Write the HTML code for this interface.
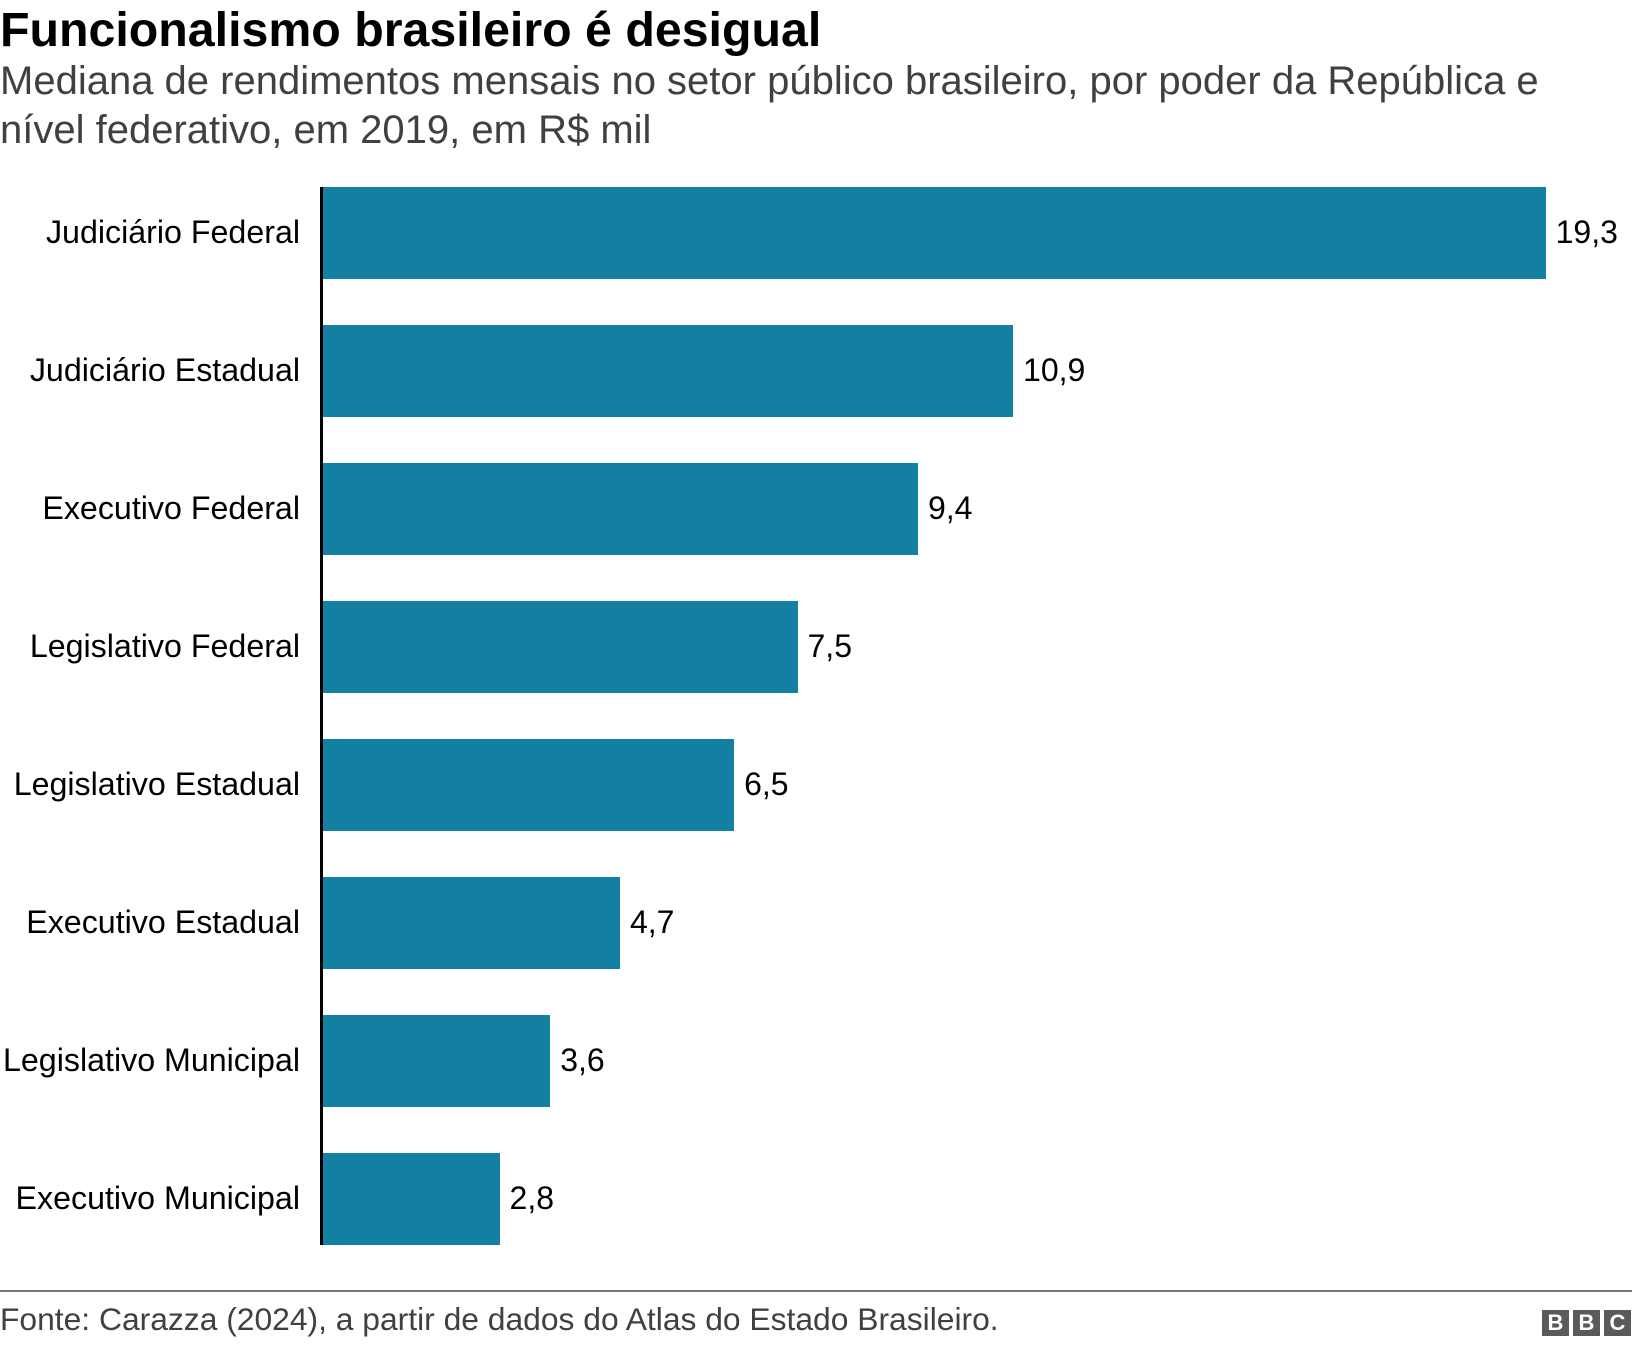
<!DOCTYPE html>
<html><head><meta charset="utf-8"><style>
body{margin:0;width:1632px;height:1346px;background:#fff;font-family:"Liberation Sans",Arial,sans-serif;position:relative;overflow:hidden}
.a{position:absolute;white-space:nowrap}
.t{left:0;top:2px;font-size:48.3px;font-weight:bold;color:#000;line-height:56px}
.s{left:0;top:57px;font-size:40px;color:#404040;line-height:49px}
.l{right:1332px;font-size:32.2px;color:#000;line-height:36px}
.v{font-size:32px;color:#000;line-height:36px}
.b{position:absolute;left:322px;height:92px;background:#1380a1}
</style></head><body>
<div class="a t">Funcionalismo brasileiro é desigual</div>
<div class="a s">Mediana de rendimentos mensais no setor público brasileiro, por poder da República e<br>nível federativo, em 2019, em R$ mil</div>
<div id="c"></div>
<div class="a" style="left:320px;top:187px;width:3px;height:1058px;background:#000"></div>
<div class="a" style="left:0;top:1290px;width:1632px;height:2px;background:#777"></div>
<div class="a" style="left:0;top:1301px;font-size:31.8px;color:#404040;line-height:36px">Fonte: Carazza (2024), a partir de dados do Atlas do Estado Brasileiro.</div>
<div class="a" style="left:1542px;top:1310px;display:flex;gap:4px">
<div style="width:27px;height:26px;background:#5a5a5a;color:#fff;font-weight:bold;font-size:22px;text-align:center;line-height:26px">B</div>
<div style="width:27px;height:26px;background:#5a5a5a;color:#fff;font-weight:bold;font-size:22px;text-align:center;line-height:26px">B</div>
<div style="width:27px;height:26px;background:#5a5a5a;color:#fff;font-weight:bold;font-size:22px;text-align:center;line-height:26px">C</div>
</div>
<script>
var d=[["Judiciário Federal",19.3],["Judiciário Estadual",10.9],["Executivo Federal",9.4],["Legislativo Federal",7.5],["Legislativo Estadual",6.5],["Executivo Estadual",4.7],["Legislativo Municipal",3.6],["Executivo Municipal",2.8]];
var h="";
d.forEach(function(r,i){var top=187.4+i*138;var w=r[1]*63.4;
h+='<div class="b" style="top:'+top+'px;width:'+w+'px"></div>';
h+='<div class="a l" style="top:'+(top+27)+'px">'+r[0]+'</div>';
h+='<div class="a v" style="left:'+(322+w+10)+'px;top:'+(top+27)+'px">'+r[1].toString().replace(".",",")+'</div>';});
document.getElementById("c").innerHTML=h;
</script>
</body></html>
